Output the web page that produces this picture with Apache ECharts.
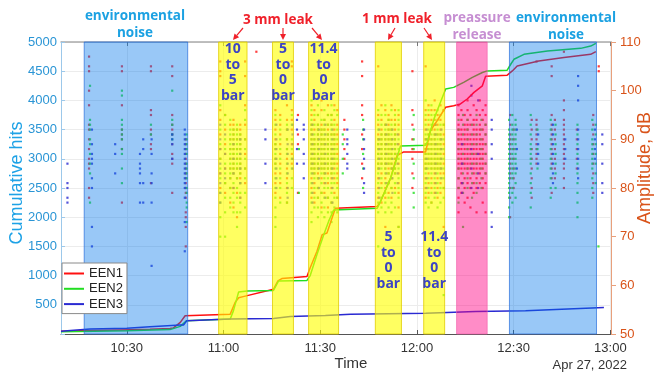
<!DOCTYPE html>
<html>
<head>
<meta charset="utf-8">
<script src="https://cdn.jsdelivr.net/npm/echarts@6/dist/echarts.min.js"></script>
<style>
html, body { margin: 0; padding: 0; background: #fff; }
#chart { width: 655px; height: 375px; }
</style>
</head>
<body>
<div id="chart"></div>
<script>
// all times are minutes after 10:00 on Apr 27, 2022

// cumulative hits, [minute, hits]
var een1Hits = [[9.6, 46], [18.6, 60], [27.9, 70], [37.2, 80], [43.4, 95], [44.4, 102], [46.6, 199], [48.1, 313],
  [62.1, 340], [63.6, 540], [64.7, 620], [66.1, 640], [75.5, 765], [76.9, 910], [78.1, 950], [85.9, 985],
  [86.9, 1134], [89.0, 1418], [90.6, 1700], [92.1, 1729], [94.7, 2154], [107.7, 2183], [108.7, 2268],
  [111.8, 2664], [113.9, 3060], [115.9, 3118], [122.7, 3118], [123.2, 3145], [124.2, 3485], [126.3, 3655],
  [128.9, 3883], [131.4, 3910], [133.5, 3939], [135.6, 4024], [137.7, 4138], [140.3, 4250], [141.3, 4415],
  [148.0, 4432], [149.6, 4505], [151.1, 4590], [157.8, 4675], [165.6, 4733], [173.9, 4789], [175.5, 4835]];
var een2Hits = [[9.6, 40], [30, 55], [43.4, 75], [46.6, 131], [48.6, 228], [62.1, 255], [63.1, 400], [64.7, 721],
  [67.3, 738], [75.5, 745], [77.1, 908], [85.9, 918], [86.9, 1000], [88.0, 1190], [89.0, 1360], [91.1, 1700],
  [92.6, 1928], [94.2, 2125], [107.7, 2154], [108.7, 2268], [111.8, 2664], [113.9, 3030], [114.9, 3220],
  [122.7, 3230], [123.2, 3288], [125.3, 3684], [127.3, 3968], [128.9, 4194], [131.4, 4223], [134.5, 4308],
  [137.2, 4393], [140.3, 4478], [141.8, 4505], [148.0, 4517], [149.1, 4619], [150.1, 4704], [153.2, 4789],
  [160.5, 4845], [170.8, 4891], [173.9, 4930], [175.5, 4976]];
var een3Hits = [[9.6, 46], [18.6, 85], [30, 100], [37.2, 125], [46.6, 153], [47.6, 155], [48.6, 228], [62.1, 255],
  [75.5, 267], [80.7, 301], [91.6, 315], [99.4, 340], [122.7, 357], [138.2, 386], [153.7, 398], [178.0, 454]];

// amplitudes, columns of [minute, [dB, ...]]
var een1Amp = [
  [18.3, [107, 105, 104, 100, 97, 93, 92, 90, 88, 86, 85, 84, 80, 78]],
  [28.5, [105, 104, 97, 92, 91, 90, 88, 77]],
  [37.5, [105, 104, 96, 95, 92, 91, 89, 88, 81]],
  [44.1, [105, 103, 95, 93, 92, 91, 89, 87, 86, 85, 79]],
  [48.3, [90, 89, 88, 87, 86, 85, 84, 83, 82, 81, 80, 79, 78, 75, 74, 72, 68]],
  [59.0, [106, 104, 103, 96, 94, 91, 88, 86, 83, 80]],
  [60.5, [95, 92, 89, 87, 84, 81, 79]],
  [62.1, [93, 90, 88, 86, 84, 82, 80, 77]],
  [63.1, [94, 93, 92, 91, 90, 89, 88, 87, 86, 85, 84, 83, 80, 76]],
  [64.2, [92, 90, 88, 86, 84, 82, 79, 74]],
  [65.2, [93, 92, 91, 90, 89, 88, 87, 86, 85, 84, 83, 82, 81, 78]],
  [66.7, [106, 103, 97, 93, 90, 87, 84, 81]],
  [70.2, [108]],
  [76.1, [96, 94, 92, 90, 89, 88, 86, 85, 83, 81, 79]],
  [77.6, [95, 93, 91, 89, 87, 85, 83, 81, 78]],
  [79.7, [97, 94, 92, 90, 88, 86, 84, 82, 80, 77]],
  [81.2, [106, 105, 96, 94, 92, 89, 87, 85]],
  [83.1, [95, 91, 89, 79]],
  [87.3, [97, 95, 93, 92, 91, 90, 89, 88, 87, 86, 85, 84, 82, 80, 78]],
  [88.2, [96, 94, 92, 90, 89, 88, 87, 86, 85, 84, 83, 81, 79, 77]],
  [89.3, [95, 93, 92, 91, 90, 89, 88, 87, 86, 85, 84, 83, 82, 80, 78]],
  [90.4, [98, 96, 93, 92, 91, 90, 89, 88, 87, 86, 85, 84, 82, 79, 76]],
  [91.3, [94, 92, 90, 89, 88, 87, 86, 85, 84, 83, 81, 79]],
  [92.4, [97, 95, 93, 92, 91, 90, 89, 88, 87, 86, 85, 84, 83, 81, 78, 76]],
  [93.5, [95, 93, 91, 89, 88, 87, 86, 85, 84, 83, 82, 80, 77]],
  [94.4, [97, 94, 92, 91, 90, 89, 88, 87, 86, 85, 84, 82, 79]],
  [95.3, [96, 93, 91, 89, 87, 85, 83, 81, 78]],
  [97.5, [94, 92, 90, 88, 86]],
  [103.0, [106, 103, 97, 95, 91, 88, 85, 82]],
  [108.0, [105, 95, 93, 91, 90, 89, 88, 87, 86, 85, 84, 82, 80, 78]],
  [109.0, [97, 94, 92, 91, 90, 89, 88, 87, 86, 85, 83, 81, 77]],
  [110.2, [96, 93, 91, 90, 89, 88, 87, 86, 85, 84, 82, 80, 78, 72]],
  [111.2, [95, 94, 93, 92, 91, 90, 89, 88, 87, 86, 85, 84, 83, 81, 79]],
  [112.1, [97, 94, 92, 90, 89, 88, 87, 86, 85, 84, 82, 80, 78]],
  [113.2, [96, 94, 93, 92, 91, 90, 89, 88, 87, 86, 85, 84, 83, 80]],
  [114.3, [95, 93, 91, 89, 87, 85, 83, 81, 79, 76, 72]],
  [118.6, [104, 96, 93, 90, 88, 86, 83, 80]],
  [122.7, [105, 96, 94, 92, 90, 89, 88, 87, 86, 85, 84, 82, 80, 78]],
  [123.6, [97, 95, 93, 91, 90, 89, 88, 87, 86, 85, 83, 81, 79]],
  [124.5, [96, 94, 92, 90, 89, 88, 87, 86, 85, 84, 82, 80, 77]],
  [125.5, [98, 96, 94, 93, 92, 91, 90, 89, 88, 87, 86, 85, 84, 83, 81, 79]],
  [126.4, [95, 93, 91, 89, 88, 87, 86, 85, 84, 82, 80, 78]],
  [127.3, [97, 94, 92, 91, 90, 89, 88, 87, 86, 85, 84, 83, 81, 79]],
  [128.3, [96, 93, 91, 89, 87, 85, 83, 80, 72]],
  [132.9, [97, 95, 93, 92, 91, 90, 89, 88, 87, 86, 85, 84, 82, 80, 78, 75]],
  [133.8, [96, 94, 92, 91, 90, 89, 88, 87, 86, 85, 84, 83, 81, 79]],
  [134.8, [95, 93, 92, 91, 90, 89, 88, 87, 86, 85, 84, 82, 80, 77]],
  [135.7, [98, 96, 94, 93, 92, 91, 90, 89, 88, 87, 86, 85, 84, 83, 81, 78]],
  [136.6, [95, 93, 91, 90, 89, 88, 87, 86, 85, 84, 82, 80, 76]],
  [137.6, [97, 94, 93, 92, 91, 90, 89, 88, 87, 86, 85, 84, 83, 81, 79]],
  [138.5, [96, 94, 92, 91, 90, 89, 88, 87, 86, 85, 84, 82, 80, 75]],
  [139.5, [98, 95, 93, 92, 91, 90, 89, 88, 87, 86, 85, 84, 83, 81]],
  [140.4, [96, 94, 92, 90, 89, 88, 87, 86, 85, 84, 82, 80, 77]],
  [141.3, [97, 95, 93, 91, 89, 87, 85, 83, 81, 75]],
  [148.9, [95, 93, 91, 90, 89, 88, 87, 86, 85, 84, 83, 82, 80, 78, 74]],
  [150.0, [92, 90, 88, 86, 84, 82, 80]],
  [155.6, [94, 92, 90, 88, 86, 84, 82, 80, 78]],
  [157.1, [106, 94, 93, 92, 91, 90, 89, 88, 87, 86, 85]],
  [161.8, [105, 103, 95, 93, 92, 91, 90, 89, 88, 87, 86, 85, 84, 82, 79]],
  [162.8, [94, 92, 90, 88, 86, 84, 82]],
  [165.6, [108, 98, 96, 94, 93, 92, 91, 90, 89, 88, 87, 86, 85, 84, 82, 80]],
  [169.6, [92, 90, 88, 86, 84]],
  [174.7, [95, 93, 91, 89, 87, 85, 83, 81, 79]],
  [176.4, [105, 104]]
];
var een2Amp = [
  [18.6, [101, 94, 93, 92, 90, 89, 87, 85, 83, 77]],
  [28.5, [100, 99, 94, 93, 92, 91, 90, 88, 87, 84, 81]],
  [37.5, [93, 91]],
  [44.1, [100, 94, 93, 91, 90]],
  [48.6, [91, 90, 89, 88, 87, 85, 84, 83, 82, 80, 79, 77, 76, 73]],
  [59.0, [97, 92, 89, 86, 84, 82, 79, 77, 74, 70]],
  [60.5, [95, 93, 90, 88, 85, 83, 81, 78, 75, 70]],
  [62.1, [94, 92, 91, 90, 89, 88, 87, 86, 85, 84, 83, 82, 80, 78, 76]],
  [63.1, [92, 91, 90, 89, 88, 87, 86, 85, 84, 83, 81, 79, 77, 75]],
  [64.2, [93, 92, 91, 90, 89, 88, 87, 86, 85, 84, 82, 80, 78, 75, 72]],
  [65.2, [91, 90, 89, 88, 87, 86, 85, 84, 83, 81, 79, 77, 75]],
  [66.7, [96, 94, 90, 88, 86, 84, 82, 79, 76]],
  [76.1, [95, 93, 91, 89, 88, 87, 86, 85, 84, 82, 80, 78, 76, 74, 72]],
  [77.6, [94, 92, 90, 88, 86, 84, 82, 80, 77]],
  [79.7, [93, 92, 90, 88, 87, 85, 83, 81, 79, 77]],
  [81.2, [95, 93, 90, 88, 86, 84, 82, 80]],
  [83.4, [88, 79]],
  [87.3, [98, 96, 94, 93, 92, 91, 90, 89, 88, 87, 86, 85, 84, 83, 81, 79, 77, 75, 73]],
  [88.2, [95, 93, 91, 90, 89, 88, 87, 86, 85, 84, 83, 82, 80, 78, 76]],
  [89.3, [97, 95, 93, 92, 91, 90, 89, 88, 87, 86, 85, 84, 82, 80, 78, 76, 74]],
  [90.4, [94, 92, 91, 90, 89, 88, 87, 86, 85, 84, 83, 81, 79, 77, 75]],
  [91.3, [96, 94, 93, 92, 91, 90, 89, 88, 87, 86, 85, 84, 83, 82, 80, 78, 76, 74]],
  [92.4, [95, 93, 91, 90, 89, 88, 87, 86, 85, 84, 82, 80, 78, 75]],
  [93.5, [97, 95, 94, 93, 92, 91, 90, 89, 88, 87, 86, 85, 84, 83, 81, 79, 77, 75, 73]],
  [94.4, [96, 93, 91, 90, 89, 88, 87, 86, 85, 83, 81, 78, 76]],
  [95.3, [95, 92, 90, 88, 86, 84, 82, 80, 78, 75]],
  [97.0, [91, 89, 86, 83]],
  [103.3, [94, 92, 90, 87, 84, 80]],
  [108.0, [96, 94, 92, 90, 89, 88, 87, 86, 85, 84, 83, 81, 79, 77, 75, 68]],
  [109.0, [95, 93, 91, 90, 89, 88, 87, 86, 85, 84, 82, 80, 78, 76]],
  [110.2, [97, 95, 93, 92, 91, 90, 89, 88, 87, 86, 85, 84, 83, 81, 79, 77, 75]],
  [111.2, [94, 92, 91, 90, 89, 88, 87, 86, 85, 83, 81, 78, 76]],
  [112.1, [96, 93, 92, 91, 90, 89, 88, 87, 86, 85, 84, 82, 80, 77, 75]],
  [113.2, [95, 93, 91, 90, 89, 88, 87, 86, 85, 84, 83, 81, 79, 76]],
  [114.3, [96, 94, 92, 90, 88, 86, 84, 82, 80, 78, 72]],
  [119.0, [95, 92, 90, 88, 85, 82, 79, 76]],
  [122.7, [98, 95, 93, 91, 90, 89, 88, 87, 86, 85, 84, 83, 81, 79, 77]],
  [123.6, [96, 94, 92, 91, 90, 89, 88, 87, 86, 85, 84, 82, 80, 78, 76]],
  [124.5, [97, 95, 93, 92, 91, 90, 89, 88, 87, 86, 85, 84, 83, 81, 79, 77]],
  [125.5, [95, 93, 91, 90, 89, 88, 87, 86, 85, 84, 82, 80, 78]],
  [126.4, [96, 94, 92, 91, 90, 89, 88, 87, 86, 85, 84, 83, 81, 79, 76]],
  [127.3, [95, 93, 91, 90, 89, 88, 87, 86, 85, 84, 82, 80, 77]],
  [128.3, [96, 93, 90, 88, 86, 84, 82, 80, 78, 58]],
  [132.9, [94, 92, 90, 88, 86, 84, 82, 80, 77]],
  [134.3, [95, 93, 91, 89, 87, 85, 83, 81, 79, 72]],
  [135.7, [94, 92, 90, 88, 86, 84, 82, 80]],
  [137.1, [93, 91, 89, 87, 85, 83, 81, 78]],
  [138.5, [95, 93, 91, 89, 87, 85, 83, 81, 79]],
  [140.0, [94, 92, 90, 88, 86, 84, 82, 80]],
  [141.3, [93, 91, 89, 87, 85, 83]],
  [148.6, [94, 92, 91, 90, 89, 88, 87, 86, 85, 84, 83, 82, 81, 80, 79, 78, 76, 74]],
  [149.6, [95, 93, 92, 91, 90, 89, 88, 87, 86, 85, 84, 83, 82, 80, 79, 77]],
  [150.6, [94, 93, 92, 91, 90, 89, 88, 87, 86, 85, 84, 83, 81, 78]],
  [155.3, [95, 93, 91, 89, 88, 87, 86, 85, 83, 81, 79, 76]],
  [157.4, [92, 88, 84]],
  [161.5, [94, 92, 90, 88, 86, 84, 82, 80, 78]],
  [163.0, [93, 91, 89, 87, 85, 83, 80]],
  [169.8, [93, 91, 89, 87, 85, 83, 81, 79, 77, 74]],
  [174.4, [94, 92, 90, 89, 88, 87, 86, 85, 84, 82, 80, 78]],
  [175.5, [93, 91, 89, 87, 85, 83, 81]],
  [176.3, [68]]
];
var een3Amp = [
  [11.6, [85, 81, 80, 78, 77]],
  [19.2, [92, 89, 87, 86, 85, 82, 80, 72, 68]],
  [26.4, [89, 87, 83]],
  [34.1, [87, 85, 84, 83, 81, 77]],
  [35.1, [90, 88, 81, 77]],
  [37.7, [90, 87, 83, 81, 77, 64]],
  [44.1, [91, 90, 89, 86]],
  [48.0, [92, 91, 90, 89, 88, 87, 86, 85, 84, 83, 82, 81, 80, 78, 73, 67]],
  [59.0, [93, 90, 88, 85, 83, 81, 79, 77]],
  [60.5, [91, 87, 84, 82]],
  [63.1, [89, 86, 83, 80]],
  [65.2, [90, 87, 84, 81, 78]],
  [73.0, [92, 90, 85, 81]],
  [76.4, [93, 90, 88, 86, 84, 82, 80]],
  [79.9, [92, 89, 87, 85, 83, 80, 78]],
  [81.4, [93, 91, 89, 86, 84]],
  [82.8, [94, 92, 88, 85]],
  [84.9, [93, 92, 90, 87, 85, 82]],
  [87.6, [93, 91, 89, 87, 85, 83, 81, 79, 77]],
  [89.6, [92, 90, 88, 86, 84, 82, 80]],
  [91.6, [93, 91, 89, 87, 85, 83, 81, 78]],
  [93.8, [92, 90, 88, 86, 84, 82, 80, 77]],
  [98.4, [92, 90, 89, 87, 85, 84]],
  [103.6, [92, 90, 88, 86, 84, 81, 79]],
  [108.3, [92, 90, 88, 86, 84, 82, 80, 78]],
  [110.5, [93, 91, 89, 87, 85, 83, 81]],
  [112.4, [92, 90, 88, 86, 84, 82, 79]],
  [114.0, [91, 89, 87, 85, 83, 81]],
  [123.0, [92, 90, 88, 86, 84, 82, 80]],
  [125.8, [93, 91, 89, 87, 85, 83, 81, 79]],
  [127.6, [92, 90, 88, 86, 84, 82]],
  [134.0, [89, 85, 81, 79]],
  [136.9, [101, 99, 88, 84, 80]],
  [139.0, [98, 87, 83, 80]],
  [143.2, [94, 92, 89, 86, 75, 72]],
  [151.0, [92, 88, 84]],
  [157.6, [91, 89, 87, 85]],
  [162.2, [93, 91, 89, 87, 85, 83, 81]],
  [166.0, [90, 88, 86]],
  [170.0, [103, 101, 98, 92, 90, 88, 86, 84, 82]],
  [175.2, [92, 90, 88, 86]],
  [177.5, [91, 89, 85, 81, 79]]
];

// shaded windows, [from, to] in minutes
var noiseWin = [[16.8, 48.9], [148.7, 175.7]];
var leakWin = [[58.5, 67.3], [75.2, 81.7], [86.4, 95.7], [107.1, 115.2], [122.1, 128.6]];
var leakText = ['10\nto\n5\nbar', '5\nto\n0\nbar', '11.4\nto\n0\nbar', '5\nto\n0\nbar', '11.4\nto\n0\nbar'];
var releaseWin = [[132.3, 141.8]];
var timeTicks = [30, 60, 90, 120, 150, 180];

var RED = '#ff1010', GREEN = '#22dd22', BLUE = '#2a2ad2';
var LEFT_C = '#2a95d5', RIGHT_C = '#d95319', NOTE_C = '#f0202a';

function ampData(cols) {
  var out = [];
  cols.forEach(function (c) {
    c[1].forEach(function (db) { out.push([c[0], db]); });
  });
  return out;
}

var areas = [];
noiseWin.forEach(function (w) {
  areas.push([{ xAxis: w[0], itemStyle: { color: 'rgba(0,118,235,0.4)', borderColor: 'rgba(40,110,220,0.7)', borderWidth: 1 }, label: { show: false } }, { xAxis: w[1] }]);
});
leakWin.forEach(function (w, i) {
  var low = i >= 3;
  areas.push([{
    xAxis: w[0],
    itemStyle: { color: 'rgba(255,255,0,0.62)', borderColor: 'rgba(225,205,0,0.8)', borderWidth: 1 },
    label: {
      show: true, formatter: leakText[i],
      position: low ? 'insideBottom' : 'insideTop', distance: low ? 43 : 0,
      color: '#3c44c4', fontFamily: 'Open Sans', fontWeight: 'bold', fontSize: 14, lineHeight: 15.5, align: 'center'
    }
  }, { xAxis: w[1] }]);
});
releaseWin.forEach(function (w) {
  areas.push([{ xAxis: w[0], itemStyle: { color: 'rgba(255,0,130,0.45)', borderColor: 'rgba(240,90,170,0.6)', borderWidth: 1 }, label: { show: false } }, { xAxis: w[1] }]);
});

function arrow(x1, y1, x2, y2) {
  var dx = x2 - x1, dy = y2 - y1, L = Math.sqrt(dx * dx + dy * dy);
  var ux = dx / L, uy = dy / L, hl = 6, hw = 3;
  var bx = x2 - ux * hl, by = y2 - uy * hl;
  return [
    { type: 'line', shape: { x1: x1, y1: y1, x2: bx, y2: by }, style: { stroke: NOTE_C, lineWidth: 1.2 } },
    { type: 'polygon', shape: { points: [[x2, y2], [bx - uy * hw, by + ux * hw], [bx + uy * hw, by - ux * hw]] }, style: { fill: NOTE_C } }
  ];
}
function note(x, y, text, color) {
  return { type: 'text', x: x, y: y, style: { text: text, fill: color, font: 'bold 13.5px "Open Sans"', align: 'center', verticalAlign: 'middle', lineHeight: 17 } };
}

var graphics = [
  note(135, 25, 'environmental\nnoise', '#1ba1e2'),
  note(278, 20, '3 mm leak', NOTE_C),
  note(397, 19, '1 mm leak', NOTE_C),
  note(477, 27, 'preassure\nrelease', '#c68ed2'),
  note(566, 27, 'environmental\nnoise', '#1ba1e2'),
  { type: 'text', x: 627, y: 365, style: { text: 'Apr 27, 2022', fill: '#333', font: '13px "Liberation Sans"', align: 'right', verticalAlign: 'middle' } }
].concat(arrow(243, 28, 233, 40), arrow(283, 28, 283, 40), arrow(312, 28, 322, 40),
  arrow(395, 28, 388, 40), arrow(424, 28, 432, 40));

function hm(m) {
  var h = 10 + Math.floor(m / 60), mm = Math.round(m % 60);
  return h + ':' + (mm < 10 ? '0' + mm : mm);
}

var chart = echarts.init(document.getElementById('chart'));
chart.setOption({
  animation: false,
  backgroundColor: '#fff',
  textStyle: { fontFamily: 'Liberation Sans' },
  grid: { left: 61, right: 44, top: 42, bottom: 41, containLabel: false, outerBoundsMode: 'none' },
  legend: {
    data: ['EEN1', 'EEN2', 'EEN3'],
    orient: 'vertical', left: 62, top: 263, z: 20,
    backgroundColor: '#fff', borderColor: '#8a8a8a', borderWidth: 1,
    padding: [4, 4, 3, 2], icon: 'rect', itemWidth: 20, itemHeight: 2, itemGap: 2.3,
    textStyle: { fontSize: 13, color: '#222', fontFamily: 'Liberation Sans' }
  },
  xAxis: [{
    type: 'value', min: 9.6, max: 180.2,
    name: 'Time', nameLocation: 'middle', nameGap: 22, nameMoveOverlap: false,
    nameTextStyle: { fontSize: 15, color: '#333', padding: [0, 0, 0, 30] },
    axisLine: { lineStyle: { color: '#555' } },
    axisTick: { inside: true, length: 4, lineStyle: { color: '#555' }, customValues: timeTicks },
    axisLabel: { formatter: hm, fontSize: 13, color: '#333', margin: 8, customValues: timeTicks },
    splitLine: { show: true, lineStyle: { color: '#ececec' } }
  }, {
    type: 'value', position: 'top', min: 9.6, max: 180.2,
    axisLine: { show: true, lineStyle: { color: '#aaa', width: 1.5 } },
    axisTick: { show: true, inside: true, length: 4, lineStyle: { color: '#777' }, customValues: timeTicks },
    axisLabel: { show: false }, splitLine: { show: false }
  }],
  yAxis: [{
    type: 'value', min: 0, max: 5000, interval: 500,
    name: 'Cumulative hits', nameLocation: 'middle', nameGap: 35, nameRotate: 90, nameMoveOverlap: false,
    nameTextStyle: { fontSize: 18, color: '#1ea2e6', padding: [0, 0, 0, 10] },
    axisLine: { show: true, lineStyle: { color: '#9cc8ea' } },
    axisTick: { show: true, inside: true, length: 4, lineStyle: { color: '#9cc8ea' } },
    axisLabel: { fontSize: 13, color: LEFT_C, margin: 4, formatter: function (v) { return v === 0 ? '' : v; } },
    splitLine: { show: true, lineStyle: { color: '#ececec' } }
  }, {
    type: 'value', min: 50, max: 110, interval: 10, position: 'right',
    name: 'Amplitude, dB', nameLocation: 'middle', nameGap: 25, nameRotate: 90, nameMoveOverlap: false,
    nameTextStyle: { fontSize: 18, color: RIGHT_C, padding: [0, 0, 0, 40] },
    axisLine: { show: true, lineStyle: { color: '#e8a07c' } },
    axisTick: { show: true, length: 5, lineStyle: { color: '#e8a07c' } },
    axisLabel: { fontSize: 13, color: RIGHT_C, margin: 9 },
    splitLine: { show: false }
  }],
  series: [
    { name: 'EEN1 amplitude', type: 'scatter', yAxisIndex: 1, z: 1, symbol: 'rect', symbolSize: 2.2, silent: true, itemStyle: { color: RED }, data: ampData(een1Amp) },
    { name: 'EEN2 amplitude', type: 'scatter', yAxisIndex: 1, z: 1, symbol: 'rect', symbolSize: 2.2, silent: true, itemStyle: { color: GREEN }, data: ampData(een2Amp) },
    { name: 'EEN3 amplitude', type: 'scatter', yAxisIndex: 1, z: 1, symbol: 'rect', symbolSize: 2.2, silent: true, itemStyle: { color: BLUE }, data: ampData(een3Amp) },
    { name: 'EEN1', type: 'line', yAxisIndex: 0, z: 2, symbol: 'none', lineStyle: { color: RED, width: 1.5 }, itemStyle: { color: RED }, data: een1Hits },
    { name: 'EEN2', type: 'line', yAxisIndex: 0, z: 2, symbol: 'none', lineStyle: { color: GREEN, width: 1.5 }, itemStyle: { color: GREEN }, data: een2Hits },
    { name: 'EEN3', type: 'line', yAxisIndex: 0, z: 2, symbol: 'none', lineStyle: { color: BLUE, width: 1.5 }, itemStyle: { color: BLUE }, data: een3Hits },
    { name: 'windows', type: 'line', yAxisIndex: 0, z: 5, data: [], silent: true,
      markArea: { z: 5, silent: true, data: areas } }
  ],
  graphic: graphics
});
</script>
</body>
</html>
